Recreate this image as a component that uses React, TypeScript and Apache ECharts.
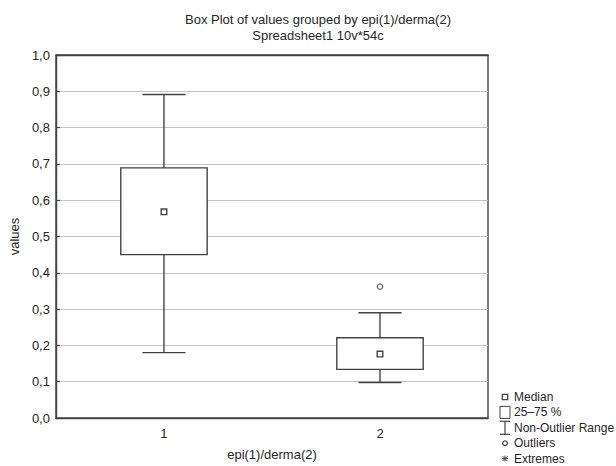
import React, { useEffect, useRef } from "react";
import * as echarts from "echarts";

const categories = ["1", "2"];
const whiskerLow = [0.18, 0.098];
const q1 = [0.45, 0.134];
const median = [0.568, 0.176];
const q3 = [0.689, 0.221];
const whiskerHigh = [0.891, 0.29];
const outliers = [[1, 0.362]];
const yTicks = [0, 0.1, 0.2, 0.3, 0.4, 0.5, 0.6, 0.7, 0.8, 0.9, 1.0];
const legendItems = ["Median", "25–75 %", "Non-Outlier Range", "Outliers", "Extremes"];

const FONT = "Liberation Sans";
const INK = "#262626";
const LINE = "#444";

export default function App() {
  const ref = useRef<HTMLDivElement>(null);
  useEffect(() => {
    document.body.style.margin = "0";
    const chart = echarts.init(ref.current!, null, { renderer: "svg" });
    const boxData = categories.map((_, i) => [i, whiskerLow[i], q1[i], median[i], q3[i], whiskerHigh[i]]);

    const lx = 505;
    const ly0 = 397;
    const dy = 15.4;
    const legendGraphics: any[] = [];
    legendGraphics.push({ type: "rect", shape: { x: lx - 2.7, y: ly0 - 2.7, width: 5.4, height: 5.4 }, style: { fill: "#fff", stroke: LINE, lineWidth: 1.3 } });
    legendGraphics.push({ type: "rect", shape: { x: lx - 5, y: ly0 + dy - 6, width: 10, height: 12 }, style: { fill: "#fff", stroke: LINE, lineWidth: 1 } });
    legendGraphics.push({ type: "line", shape: { x1: lx, y1: ly0 + 2 * dy - 6.5, x2: lx, y2: ly0 + 2 * dy + 6.5 }, style: { stroke: LINE, lineWidth: 1.2 } });
    legendGraphics.push({ type: "line", shape: { x1: lx - 5, y1: ly0 + 2 * dy - 6.5, x2: lx + 5, y2: ly0 + 2 * dy - 6.5 }, style: { stroke: LINE, lineWidth: 1.2 } });
    legendGraphics.push({ type: "line", shape: { x1: lx - 5, y1: ly0 + 2 * dy + 6.5, x2: lx + 5, y2: ly0 + 2 * dy + 6.5 }, style: { stroke: LINE, lineWidth: 1.2 } });
    legendGraphics.push({ type: "circle", shape: { cx: lx, cy: ly0 + 3 * dy, r: 2.3 }, style: { fill: "#fff", stroke: LINE, lineWidth: 1.3 } });
    const ey = ly0 + 4 * dy;
    const es = 3;
    legendGraphics.push({ type: "line", shape: { x1: lx - es, y1: ey, x2: lx + es, y2: ey }, style: { stroke: LINE, lineWidth: 1 } });
    legendGraphics.push({ type: "line", shape: { x1: lx, y1: ey - es, x2: lx, y2: ey + es }, style: { stroke: LINE, lineWidth: 1 } });
    legendGraphics.push({ type: "line", shape: { x1: lx - es * 0.8, y1: ey - es * 0.8, x2: lx + es * 0.8, y2: ey + es * 0.8 }, style: { stroke: LINE, lineWidth: 1 } });
    legendGraphics.push({ type: "line", shape: { x1: lx - es * 0.8, y1: ey + es * 0.8, x2: lx + es * 0.8, y2: ey - es * 0.8 }, style: { stroke: LINE, lineWidth: 1 } });
    legendItems.forEach((t, i) => {
      legendGraphics.push({
        type: "text",
        x: 514,
        y: ly0 + i * dy,
        style: { text: t, fontSize: 12, fontFamily: FONT, fill: INK, textVerticalAlign: "middle", textAlign: "left" },
      });
    });

    const option: any = {
      animation: false,
      backgroundColor: "#fff",
      grid: { left: 55.5, right: 128, top: 55, bottom: 44, show: true, borderColor: LINE, borderWidth: 1.4, backgroundColor: "transparent" },
      graphic: [
        { type: "text", x: 318, y: 19.5, style: { text: "Box Plot of values grouped by epi(1)/derma(2)", fontSize: 13, fontFamily: FONT, fill: INK, textAlign: "center", textVerticalAlign: "middle" } },
        { type: "text", x: 318, y: 35, style: { text: "Spreadsheet1 10v*54c", fontSize: 13, fontFamily: FONT, fill: INK, textAlign: "center", textVerticalAlign: "middle" } },
        ...legendGraphics,
      ],
      xAxis: [
        {
          type: "category",
          data: categories,
          position: "bottom",
          boundaryGap: true,
          name: "epi(1)/derma(2)",
          nameLocation: "middle",
          nameGap: 30,
          nameTextStyle: { fontSize: 13, fontFamily: FONT, color: INK },
          axisLine: { lineStyle: { color: LINE, width: 1.4 } },
          axisTick: { inside: true, alignWithLabel: true, length: 3, lineStyle: { color: LINE, width: 1.2 } },
          axisLabel: { fontSize: 13, fontFamily: FONT, color: INK, margin: 9 },
          splitLine: { show: false },
        },
        {
          type: "category",
          data: categories,
          position: "top",
          boundaryGap: true,
          axisLine: { lineStyle: { color: LINE, width: 1.4 } },
          axisTick: { inside: true, alignWithLabel: true, length: 3, lineStyle: { color: LINE, width: 1.2 } },
          axisLabel: { show: false },
          splitLine: { show: false },
        },
      ],
      yAxis: {
        type: "value",
        min: 0,
        max: 1,
        interval: 0.1,
        name: "values",
        nameLocation: "middle",
        nameGap: 32,
        nameTextStyle: { fontSize: 13, fontFamily: FONT, color: INK },
        axisLine: { show: true, lineStyle: { color: LINE, width: 1.4 } },
        axisTick: { show: true, inside: true, length: 4, lineStyle: { color: LINE, width: 1.2 } },
        axisLabel: {
          fontSize: 13,
          fontFamily: FONT,
          color: INK,
          margin: 6,
          formatter: (v: number) => {
            const t = yTicks.find((x) => Math.abs(x - v) < 1e-9);
            return (t !== undefined ? t : v).toFixed(1).replace(".", ",");
          },
        },
        splitLine: { show: true, lineStyle: { color: "#c4c4c4", width: 1 } },
      },
      series: [
        {
          type: "custom",
          name: "box",
          xAxisIndex: 0,
          data: boxData,
          encode: { x: 0, y: [1, 2, 3, 4, 5] },
          renderItem: (params: any, api: any) => {
            const idx = api.value(0);
            const band = api.size([1, 0])[0];
            const hb = band * 0.2;
            const hc = band * 0.1;
            const pLow = api.coord([idx, api.value(1)]);
            const pQ1 = api.coord([idx, api.value(2)]);
            const pMed = api.coord([idx, api.value(3)]);
            const pQ3 = api.coord([idx, api.value(4)]);
            const pHigh = api.coord([idx, api.value(5)]);
            const cx = pMed[0];
            const st = { stroke: LINE, lineWidth: 1.4, fill: null };
            return {
              type: "group",
              children: [
                { type: "line", shape: { x1: cx, y1: pQ1[1], x2: cx, y2: pLow[1] }, style: st },
                { type: "line", shape: { x1: cx, y1: pQ3[1], x2: cx, y2: pHigh[1] }, style: st },
                { type: "line", shape: { x1: cx - hc, y1: pLow[1], x2: cx + hc, y2: pLow[1] }, style: st },
                { type: "line", shape: { x1: cx - hc, y1: pHigh[1], x2: cx + hc, y2: pHigh[1] }, style: st },
                { type: "rect", shape: { x: cx - hb, y: pQ3[1], width: 2 * hb, height: pQ1[1] - pQ3[1] }, style: { fill: "#fff", stroke: LINE, lineWidth: 1.4 } },
                { type: "rect", shape: { x: cx - 2.8, y: pMed[1] - 2.8, width: 5.6, height: 5.6 }, style: { fill: "#fff", stroke: LINE, lineWidth: 1.4 } },
              ],
            };
          },
          z: 5,
        },
        {
          type: "scatter",
          name: "Outliers",
          xAxisIndex: 0,
          data: outliers,
          symbol: "circle",
          symbolSize: 5.5,
          itemStyle: { color: "#fff", borderColor: LINE, borderWidth: 1.3 },
          z: 6,
        },
      ],
    };
    chart.setOption(option);
    return () => chart.dispose();
  }, []);
  return <div ref={ref} style={{ width: 616, height: 466 }} />;
}
